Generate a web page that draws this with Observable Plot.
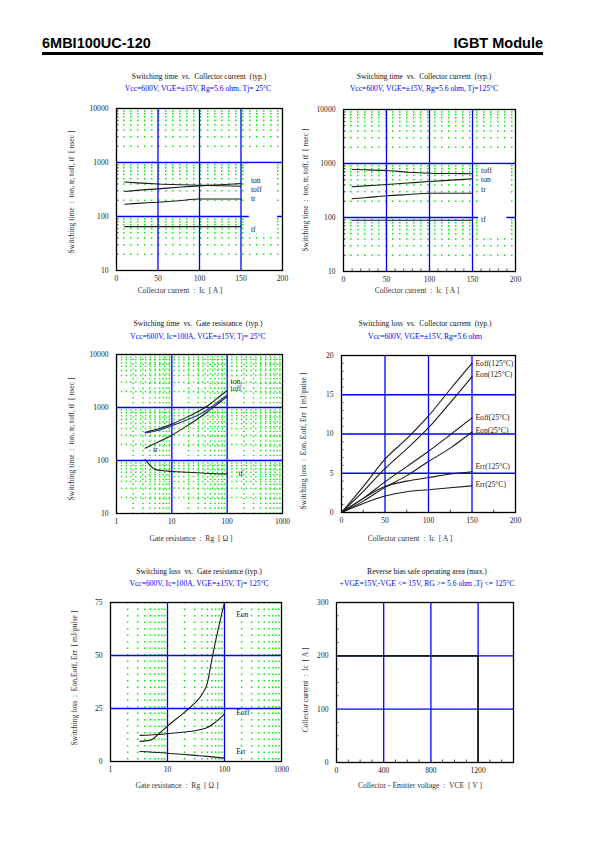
<!DOCTYPE html>
<html>
<head>
<meta charset="utf-8">
<script src="https://cdn.jsdelivr.net/npm/d3@7"></script>
<script src="https://cdn.jsdelivr.net/npm/@observablehq/plot@0.6"></script>
<style>
  html, body { margin: 0; padding: 0; background: #fff; }
  #page { position: relative; width: 595px; height: 842px; overflow: hidden; background: #fff; }
  .t { position: absolute; white-space: pre; font-family: 'Liberation Serif','Times New Roman',serif; line-height: 1; }
</style>
</head>
<body>
<div id="page"></div>
<script>
// ---------------- DATA ----------------
// Panel 1: switching time vs collector current, Tj=25°C
const p1_ic   = [10, 25, 50, 75, 100, 125, 150];
const p1_ton  = [290, 305, 325, 348, 369, 388, 407];
const p1_toff = [437, 420, 400, 388, 380, 371, 364];
const p1_tr   = [169, 175, 184, 196, 211, 211, 211];
const p1_tf   = [65, 65, 65, 65, 65, 65, 65];
const p1_labels = [
  {t: "ton",  x: 162, y: 470},
  {t: "toff", x: 162, y: 310},
  {t: "tr",   x: 162, y: 213},
  {t: "tf",   x: 162, y: 58}
];
// Panel 2: switching time vs collector current, Tj=125°C
const p2_ic   = [10, 25, 50, 75, 100, 125, 150];
const p2_toff = [774, 765, 741, 690, 661, 652, 645];
const p2_ton  = [371, 385, 408, 435, 464, 492, 521];
const p2_tr   = [222, 232, 252, 267, 282, 282, 282];
const p2_tf   = [89, 89, 89, 89, 89, 89, 89];
const p2_labels = [
  {t: "toff", x: 160, y: 741},
  {t: "ton",  x: 160, y: 499},
  {t: "tr",   x: 160, y: 334},
  {t: "tf",   x: 160, y: 92}
];
// Panel 3: switching time vs gate resistance
const p3_rg   = [3.3, 5, 10, 20, 30, 50, 70, 100];
const p3_ton  = [340, 380, 490, 680, 840, 1180, 1560, 2100];
const p3_toff = [330, 360, 455, 600, 720, 1000, 1300, 1720];
const p3_tr   = [170, 210, 300, 470, 620, 920, 1200, 1600];
const p3_rg_tf = [3.3, 4, 5, 7, 10, 20, 50, 100];
const p3_tf   = [105, 82, 68, 64, 62, 60, 57, 56];
const p3_labels = [
  {t: "ton,", x: 115, y: 3100},
  {t: "toff", x: 115, y: 2250},
  {t: "tr",   x: 4.6, y: 160},
  {t: "tf",   x: 160, y: 56}
];
// Panel 4: switching loss vs collector current
const p4_ic      = [0, 25, 50, 75, 100, 125, 150];
const p4_eoff125 = [0, 3.3, 6.8, 9.4, 12.3, 15.7, 19.0];
const p4_eon125  = [0, 2.7, 5.6, 8.1, 10.8, 14.0, 17.3];
const p4_eoff25  = [0, 1.8, 3.9, 5.85, 7.8, 9.9, 12.05];
const p4_eon25   = [0, 1.45, 3.2, 4.7, 6.5, 8.2, 10.25];
const p4_err125  = [0, 1.8, 3.3, 4.0, 4.45, 4.9, 5.2];
const p4_err25   = [0, 1.15, 2.1, 2.65, 2.9, 3.15, 3.4];
const p4_labels = [
  {t: "Eoff(125°C)", x: 154, y: 19.0},
  {t: "Eon(125°C)",  x: 154, y: 17.6},
  {t: "Eoff(25°C)",  x: 154, y: 12.1},
  {t: "Eon(25°C)",   x: 154, y: 10.5},
  {t: "Err(125°C)",  x: 154, y: 5.8},
  {t: "Err(25°C)",   x: 154, y: 3.6}
];
// Panel 5: switching loss vs gate resistance
const p5_rg_eon  = [3.3, 5, 7, 10, 20, 30, 40, 50, 60, 70, 80, 90, 100];
const p5_eon     = [9.5, 10, 13, 16.7, 23.3, 27.5, 31.5, 37, 48, 57, 64, 70, 75];
const p5_rg_eoff = [3.3, 5, 10, 20, 30, 40, 50, 60, 70, 80, 100];
const p5_eoff    = [12.3, 12.5, 13.1, 13.9, 14.5, 15.2, 16.0, 17.3, 18.7, 20, 22.5];
const p5_rg_err  = [3.3, 5, 10, 20, 30, 50, 100];
const p5_err     = [4.7, 4.5, 3.9, 3.3, 2.9, 2.4, 1.6];
const p5_labels = [
  {t: "Eon",  x: 160, y: 69.5},
  {t: "Eoff", x: 160, y: 23.3},
  {t: "Err",  x: 160, y: 4.7}
];
// Panel 6: RBSOA
const p6_vce = [0, 1200, 1200];
const p6_ic  = [200, 200, 0];

// tick labels
const ticksIc  = [0, 50, 100, 150, 200];
const ticksT   = [10, 100, 1000, 10000];
const ticksRg  = [1, 10, 100, 1000];
const ticksE20 = [0, 5, 10, 15, 20];
const ticksE75 = [0, 25, 50, 75];
const ticksVce = [0, 400, 800, 1200];
const ticksIc300 = [0, 100, 200, 300];

// ---------------- HELPERS ----------------
const GREEN = "#00ee00", BLUE = "#0000ff", INK = "#1a1a1a";
const FONT = "'Liberation Serif','Times New Roman',serif";
const FS = 7.6;
const mL = 36, mR = 10, mT = 6, mB = 18;
const page = document.getElementById("page");

function logMinors(lo, hi) {
  const out = [];
  for (let d = lo; d < hi; d *= 10) for (let k = 2; k <= 9; k++) out.push(d * k);
  return out;
}
function series(xs, ys, name) { return xs.map((x, i) => ({x, y: ys[i], s: name})); }

function txt(text, cx, cy, {color = "#111", size = FS, rotate = false, weight = "normal", family = FONT} = {}) {
  const d = document.createElement("div");
  d.className = "t";
  d.textContent = text;
  Object.assign(d.style, {
    left: cx + "px", top: cy + "px", color, fontSize: size + "px", fontWeight: weight, fontFamily: family,
    transform: "translate(-50%,-50%)" + (rotate ? " rotate(-90deg)" : "")
  });
  page.appendChild(d);
}

function panel([fx, fy, fw, fh], x, y, marks) {
  const svg = Plot.plot({
    width: fw + mL + mR, height: fh + mT + mB,
    marginLeft: mL, marginRight: mR, marginTop: mT, marginBottom: mB,
    x, y,
    style: {fontFamily: FONT, fontSize: FS + "px", color: "#222", background: "transparent", overflow: "visible"},
    marks
  });
  Object.assign(svg.style, {position: "absolute", left: (fx - mL) + "px", top: (fy - mT) + "px"});
  page.appendChild(svg);
}

const axX = (ticks, fmt) => Plot.axisX({ticks, tickSize: 0, tickPadding: 5, label: null, tickFormat: fmt ?? d3.format("d")});
const axY = (ticks, fmt) => Plot.axisY({ticks, tickSize: 0, tickPadding: 8, label: null, tickFormat: fmt ?? d3.format("d")});
const minorY = (vals, fh) => Plot.tickY(vals, {y: d => d, insetRight: 0, stroke: "#222", strokeWidth: 0.8, render: null, ...{}});
const frame = () => Plot.frame({stroke: "black", strokeWidth: 1.3});
const curve = (data, stroke = INK) => Plot.line(data, {x: "x", y: "y", z: "s", stroke, strokeWidth: 1.1, curve: "monotone-x"});
const labels = (data) => Plot.text(data, {x: "x", y: "y", text: "t", textAnchor: "start", fill: "#222", fontSize: FS});
const leftTicks = (vals, fw) => Plot.tickY(vals, {y: d => d, insetRight: fw - 2.5, stroke: "#222", strokeWidth: 0.8});
const bottomTicks = (vals, fh) => Plot.tickX(vals, {x: d => d, insetTop: fh - 2.5, stroke: "#222", strokeWidth: 0.8});

// ---------------- HEADER ----------------
const h1 = document.createElement("div");
h1.textContent = "6MBI100UC-120";
Object.assign(h1.style, {position: "absolute", left: "42px", top: "36px", font: "bold 14.5px 'Liberation Sans', Arial, sans-serif", lineHeight: "14px", color: "#000"});
page.appendChild(h1);
const h2 = document.createElement("div");
h2.textContent = "IGBT Module";
Object.assign(h2.style, {position: "absolute", right: (595 - 543) + "px", top: "36px", font: "bold 14.5px 'Liberation Sans', Arial, sans-serif", lineHeight: "14px", color: "#000"});
page.appendChild(h2);
const rule = document.createElement("div");
Object.assign(rule.style, {position: "absolute", left: "42px", top: "52px", width: "501px", height: "2.5px", background: "#000"});
page.appendChild(rule);

// ---------------- PANEL 1 ----------------
{
  const F = [116, 108, 166, 162];
  const data = [...series(p1_ic, p1_ton, "ton"), ...series(p1_ic, p1_toff, "toff"), ...series(p1_ic, p1_tr, "tr"), ...series(p1_ic, p1_tf, "tf")];
  panel(F, {domain: [0, 200]}, {type: "log", domain: [10, 10000]}, [
    Plot.ruleY(logMinors(10, 10000), {stroke: GREEN, strokeWidth: 1.5, strokeDasharray: "1.5,5.5"}),
    Plot.ruleX([50, 100, 150], {stroke: BLUE, strokeWidth: 1.3}),
    Plot.ruleY([100, 1000], {stroke: BLUE, strokeWidth: 1.3}),
    Plot.rect([0], {x1: 160, x2: 194, y1: 48, y2: 940, fill: "white"}),
    curve(data),
    labels(p1_labels),
    leftTicks(logMinors(10, 10000), F[2]),
    axX(ticksIc), axY(ticksT),
    frame()
  ]);
  txt("Switching time  vs.  Collector current  (typ.)", 199, 77);
  txt("Vcc=600V, VGE=±15V, Rg=5.6 ohm, Tj= 25°C", 198, 89, {color: BLUE});
  txt("Collector current  :  Ic  [ A ]", 180, 291, {color: "#333"});
  txt("Switching time  :  ton, tr, toff, tf  [ nsec ]", 72, 192, {color: "#333", rotate: true});
}

// ---------------- PANEL 2 ----------------
{
  const F = [343, 109, 172, 162];
  const data = [...series(p2_ic, p2_toff, "toff"), ...series(p2_ic, p2_ton, "ton"), ...series(p2_ic, p2_tr, "tr"), ...series(p2_ic, p2_tf, "tf")];
  panel(F, {domain: [0, 200]}, {type: "log", domain: [10, 10000]}, [
    Plot.ruleY(logMinors(10, 10000), {stroke: GREEN, strokeWidth: 1.5, strokeDasharray: "1.5,5.5"}),
    Plot.ruleX([50, 100, 150], {stroke: BLUE, strokeWidth: 1.3}),
    Plot.ruleY([100, 1000], {stroke: BLUE, strokeWidth: 1.3}),
    Plot.rect([0], {x1: 157, x2: 190, y1: 46, y2: 940, fill: "white"}),
    curve(data),
    labels(p2_labels),
    leftTicks(logMinors(10, 10000), F[2]),
    bottomTicks([10, 20, 30, 40, 60, 70, 80, 90, 110, 120, 130, 140, 160, 170, 180, 190], F[3]),
    axX(ticksIc), axY(ticksT),
    frame()
  ]);
  txt("Switching time  vs.  Collector current  (typ.)", 424, 77);
  txt("Vcc=600V, VGE=±15V, Rg=5.6 ohm, Tj=125°C", 424, 89, {color: BLUE});
  txt("Collector current  :  Ic  [ A ]", 417, 291, {color: "#333"});
  txt("Switching time  :  ton, tr, toff, tf  [ nsec ]", 306, 190, {color: "#333", rotate: true});
}

// ---------------- PANEL 3 ----------------
{
  const F = [116, 354, 166, 159];
  const data = [...series(p3_rg, p3_ton, "ton"), ...series(p3_rg, p3_tr, "tr"), ...series(p3_rg_tf, p3_tf, "tf")];
  const blue = series(p3_rg, p3_toff, "toff");
  panel(F, {type: "log", domain: [1, 1000]}, {type: "log", domain: [10, 10000]}, [
    Plot.ruleY(logMinors(10, 10000), {stroke: GREEN, strokeWidth: 1.5, strokeDasharray: "1.3,3.5"}),
    Plot.ruleX(logMinors(1, 1000), {stroke: GREEN, strokeWidth: 1.5, strokeDasharray: "1.3,3.5"}),
    Plot.ruleX([10, 100], {stroke: BLUE, strokeWidth: 1.3}),
    Plot.ruleY([100, 1000], {stroke: BLUE, strokeWidth: 1.3}),
    curve(data),
    curve(blue, "#2a2aa0"),
    labels(p3_labels),
    axX(ticksRg), axY(ticksT),
    frame()
  ]);
  txt("Switching time  vs.  Gate resistance  (typ.)", 198, 324);
  txt("Vcc=600V, Ic=100A, VGE=±15V, Tj= 25°C", 198, 337, {color: BLUE});
  txt("Gate resistance  :  Rg  [ Ω ]", 191, 539, {color: "#333"});
  txt("Switching time  :  ton, tr, toff, tf  [ nsec ]", 72, 439, {color: "#333", rotate: true});
}

// ---------------- PANEL 4 ----------------
{
  const F = [341, 355, 174, 157];
  const data = [
    ...series(p4_ic, p4_eoff125, "eoff125"), ...series(p4_ic, p4_eon125, "eon125"),
    ...series(p4_ic, p4_eoff25, "eoff25"), ...series(p4_ic, p4_eon25, "eon25"),
    ...series(p4_ic, p4_err125, "err125"), ...series(p4_ic, p4_err25, "err25")
  ];
  panel(F, {domain: [0, 200]}, {domain: [0, 20]}, [
    Plot.ruleX([50, 100, 150], {stroke: BLUE, strokeWidth: 1.3}),
    Plot.ruleY([5, 10, 15], {stroke: BLUE, strokeWidth: 1.3}),
    curve(data),
    labels(p4_labels),
    leftTicks(d3.range(1, 20).filter(v => v % 5), F[2]),
    bottomTicks([25, 75, 125, 175], F[3]),
    axX(ticksIc), axY(ticksE20),
    frame()
  ]);
  txt("Switching loss  vs.  Collector current  (typ.)", 425, 324);
  txt("Vcc=600V, VGE=±15V, Rg=5.6 ohm", 425, 337, {color: BLUE});
  txt("Collector current  :  Ic  [ A ]", 410, 539, {color: "#333"});
  txt("Switching loss  :  Eon, Eoff, Err  [ mJ/pulse ]", 304, 441, {color: "#333", rotate: true});
}

// ---------------- PANEL 5 ----------------
{
  const F = [110, 602, 171, 159];
  const data = [...series(p5_rg_eon, p5_eon, "eon"), ...series(p5_rg_eoff, p5_eoff, "eoff"), ...series(p5_rg_err, p5_err, "err")];
  panel(F, {type: "log", domain: [1, 1000]}, {domain: [0, 75]}, [
    Plot.ruleX(logMinors(1, 1000), {stroke: GREEN, strokeWidth: 1.5, strokeDasharray: "1.5,5"}),
    Plot.ruleX([10, 100], {stroke: BLUE, strokeWidth: 1.3}),
    Plot.ruleY([25, 50], {stroke: BLUE, strokeWidth: 1.3}),
    curve(data),
    labels(p5_labels),
    axX(ticksRg), axY(ticksE75),
    frame()
  ]);
  txt("Switching loss  vs.  Gate resistance (typ.)", 199, 572);
  txt("Vcc=600V, Ic=100A, VGE=±15V, Tj= 125°C", 199, 584, {color: BLUE});
  txt("Gate resistance  :  Rg  [ Ω ]", 177, 786, {color: "#333"});
  txt("Switching loss  :  Eon,Eoff, Err  [ mJ/pulse ]", 75, 678, {color: "#333", rotate: true});
}

// ---------------- PANEL 6 ----------------
{
  const F = [336, 602, 177, 160];
  const data = series(p6_vce, p6_ic, "rbsoa");
  panel(F, {domain: [0, 1500]}, {domain: [0, 300]}, [
    Plot.ruleX([400, 800, 1200], {stroke: BLUE, strokeWidth: 1.3}),
    Plot.ruleY([100, 200], {stroke: BLUE, strokeWidth: 1.3}),
    Plot.line(data, {x: "x", y: "y", stroke: "#102010", strokeWidth: 1.6}),
    leftTicks([25, 50, 75, 125, 150, 175, 225, 250, 275], F[2]),
    bottomTicks([100, 200, 300, 500, 600, 700, 900, 1000, 1100, 1300, 1400], F[3]),
    axX(ticksVce), axY(ticksIc300),
    frame()
  ]);
  txt("Reverse bias safe operating area (max.)", 427, 572);
  txt("+VGE=15V,-VGE <= 15V, RG >= 5.6 ohm ,Tj <= 125°C", 427, 584, {color: BLUE});
  txt("Collector - Emitter voltage  :  VCE  [ V ]", 420, 786, {color: "#333"});
  txt("Collector current  :  Ic  [ A ]", 306, 690, {color: "#333", rotate: true});
}
</script>
</body>
</html>
